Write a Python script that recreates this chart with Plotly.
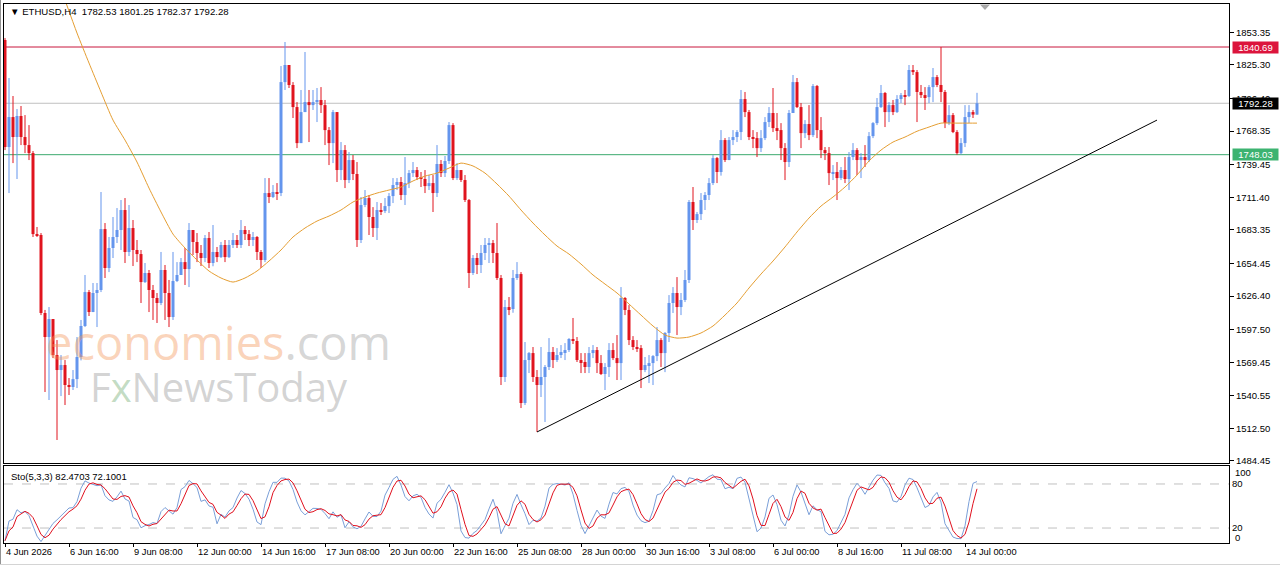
import plotly.graph_objects as go
import pandas as pd

# ---------------- data ----------------
symbol = "ETHUSD,H4"
first_open = 1846.7

close = [
    1754.6, 1780.4, 1763.2, 1781.3, 1763.2, 1756.3, 1749.4, 1679.7, 1678.9, 1611.8,
    1591.1, 1606.6, 1575.6, 1562.7, 1567.0, 1549.8, 1548.1, 1554.9, 1573.9, 1600.6,
    1629.8, 1612.6, 1629.0, 1631.6, 1684.0, 1650.5, 1667.7, 1677.2, 1683.2, 1700.4,
    1664.3, 1684.9, 1666.0, 1662.5, 1638.4, 1646.2, 1631.6, 1624.7, 1620.4, 1648.8,
    1629.0, 1608.3, 1639.3, 1644.5, 1655.6, 1649.6, 1683.2, 1672.9, 1663.4, 1659.1,
    1676.3, 1654.8, 1664.3, 1659.9, 1670.3, 1659.9, 1670.3, 1674.6, 1670.3, 1683.2,
    1679.7, 1674.6, 1677.2, 1664.3, 1657.4, 1715.0, 1711.6, 1715.9, 1715.0, 1810.5,
    1825.2, 1808.0, 1789.0, 1758.0, 1784.7, 1793.3, 1790.7, 1793.3, 1795.1, 1790.7,
    1769.2, 1758.0, 1784.7, 1734.8, 1752.0, 1726.2, 1743.4, 1731.4, 1674.6, 1704.7,
    1710.7, 1694.4, 1684.9, 1700.4, 1699.5, 1703.8, 1712.4, 1721.9, 1724.5, 1713.3,
    1723.6, 1732.2, 1734.8, 1728.8, 1727.1, 1721.0, 1723.6, 1715.0, 1740.0, 1732.2,
    1742.6, 1773.5, 1727.9, 1734.8, 1726.2, 1709.0, 1646.2, 1659.1, 1653.1, 1663.4,
    1670.3, 1672.0, 1663.4, 1641.9, 1556.7, 1616.9, 1615.2, 1641.9, 1645.3, 1534.3,
    1571.3, 1577.3, 1556.7, 1549.8, 1556.7, 1565.3, 1578.2, 1571.3, 1575.6, 1578.2,
    1579.9, 1589.4, 1587.7, 1571.3, 1569.6, 1565.3, 1577.3, 1579.9, 1568.7, 1559.3,
    1565.3, 1579.9, 1573.0, 1568.7, 1624.7, 1614.4, 1588.5, 1582.5, 1581.6, 1562.7,
    1567.0, 1568.7, 1574.7, 1588.5, 1577.3, 1594.6, 1620.4, 1629.0, 1616.9, 1623.0,
    1640.2, 1707.3, 1691.8, 1696.9, 1709.0, 1713.3, 1723.6, 1745.1, 1733.1, 1760.6,
    1743.4, 1760.6, 1763.2, 1767.5, 1795.9, 1784.7, 1763.2, 1762.3, 1753.7, 1762.3,
    1776.1, 1783.9, 1770.9, 1769.2, 1753.7, 1741.7, 1783.9, 1810.5, 1789.0, 1766.6,
    1774.4, 1764.9, 1807.1, 1769.2, 1752.0, 1749.4, 1732.2, 1733.1, 1727.9, 1734.8,
    1727.1, 1746.0, 1752.0, 1743.4, 1746.0, 1743.4, 1764.0, 1775.2, 1789.0, 1801.1,
    1784.7, 1790.7, 1784.7, 1795.9, 1799.3, 1798.5, 1820.9, 1819.1, 1802.0, 1799.3,
    1797.6, 1806.2, 1814.8, 1808.0, 1802.0, 1775.2, 1782.1, 1767.5, 1749.4, 1758.0,
    1780.4, 1784.7, 1782.53, 1792.28,
]

high = [
    1848.4, 1814.0, 1798.5, 1787.3, 1789.9, 1782.1, 1773.5, 1751.2, 1685.8, 1680.6,
    1614.4, 1616.9, 1606.6, 1588.5, 1575.6, 1571.3, 1555.8, 1562.7, 1591.1, 1605.8,
    1644.5, 1631.6, 1637.6, 1637.6, 1715.9, 1689.2, 1677.2, 1694.4, 1702.1, 1709.0,
    1710.7, 1704.7, 1691.8, 1674.6, 1666.0, 1654.8, 1648.8, 1635.9, 1629.0, 1664.3,
    1653.1, 1640.2, 1664.3, 1655.6, 1659.1, 1667.7, 1689.2, 1683.2, 1680.6, 1670.3,
    1678.9, 1681.5, 1687.5, 1668.6, 1672.9, 1674.6, 1674.6, 1680.6, 1678.9, 1691.8,
    1686.6, 1683.2, 1681.5, 1678.0, 1666.0, 1727.9, 1727.9, 1721.9, 1723.6, 1824.3,
    1845.0, 1825.2, 1810.5, 1793.3, 1803.7, 1836.4, 1803.7, 1803.7, 1805.4, 1806.2,
    1795.1, 1771.8, 1786.5, 1784.7, 1758.9, 1756.3, 1750.3, 1747.7, 1741.7, 1711.6,
    1717.6, 1713.3, 1702.9, 1707.3, 1706.4, 1710.7, 1715.0, 1727.9, 1727.9, 1728.8,
    1746.0, 1734.8, 1741.7, 1737.4, 1733.1, 1734.8, 1730.5, 1730.5, 1756.3, 1743.4,
    1746.9, 1776.1, 1775.2, 1740.8, 1734.8, 1730.5, 1709.9, 1661.7, 1663.4, 1670.3,
    1676.3, 1676.3, 1674.6, 1689.2, 1644.5, 1623.0, 1625.5, 1648.8, 1655.6, 1647.0,
    1586.8, 1578.2, 1582.5, 1562.7, 1582.5, 1567.0, 1590.2, 1582.5, 1581.6, 1584.2,
    1585.9, 1590.2, 1607.5, 1591.1, 1577.3, 1577.3, 1582.5, 1584.2, 1582.5, 1575.6,
    1568.7, 1585.9, 1585.9, 1592.8, 1634.1, 1625.5, 1618.6, 1591.9, 1588.5, 1584.2,
    1573.9, 1575.6, 1575.6, 1599.7, 1590.2, 1595.4, 1627.2, 1634.1, 1642.7, 1629.0,
    1648.8, 1709.0, 1720.2, 1698.7, 1715.0, 1715.9, 1727.9, 1747.7, 1746.0, 1769.2,
    1762.3, 1763.2, 1769.2, 1769.2, 1803.7, 1802.0, 1786.5, 1769.2, 1767.5, 1769.2,
    1780.4, 1789.0, 1805.4, 1783.9, 1775.2, 1758.0, 1786.5, 1816.6, 1814.0, 1792.5,
    1777.8, 1790.7, 1808.8, 1808.0, 1780.4, 1754.6, 1754.6, 1739.1, 1741.7, 1737.4,
    1746.0, 1750.3, 1758.0, 1753.7, 1749.4, 1756.3, 1767.5, 1776.1, 1796.8, 1808.0,
    1802.0, 1793.3, 1795.1, 1799.3, 1801.1, 1803.7, 1825.2, 1825.2, 1820.9, 1808.0,
    1806.2, 1808.0, 1822.6, 1816.6, 1840.69, 1803.7, 1790.7, 1783.9, 1769.2, 1762.3,
    1790.7, 1790.7, 1786.5, 1801.25,
]

low = [
    1752.0, 1715.0, 1740.8, 1727.1, 1756.3, 1749.4, 1743.4, 1677.2, 1677.2, 1610.0,
    1543.8, 1536.9, 1573.0, 1502.5, 1540.3, 1532.6, 1541.2, 1545.5, 1547.2, 1571.0,
    1599.7, 1609.2, 1612.6, 1599.7, 1629.8, 1641.9, 1647.0, 1659.1, 1672.0, 1666.0,
    1654.8, 1660.8, 1652.2, 1655.6, 1620.4, 1637.6, 1612.6, 1605.8, 1603.2, 1618.6,
    1605.8, 1599.7, 1605.8, 1638.4, 1644.5, 1635.9, 1634.1, 1661.7, 1655.6, 1652.2,
    1655.6, 1650.5, 1652.0, 1655.6, 1659.1, 1655.6, 1659.1, 1667.7, 1667.7, 1667.7,
    1674.6, 1669.4, 1669.4, 1657.4, 1650.5, 1655.6, 1706.4, 1710.7, 1709.0, 1712.4,
    1803.7, 1805.4, 1779.6, 1753.7, 1758.0, 1784.7, 1758.9, 1786.5, 1776.1, 1783.9,
    1756.3, 1739.1, 1740.8, 1724.5, 1726.2, 1719.3, 1723.6, 1726.2, 1668.6, 1672.0,
    1702.9, 1678.9, 1677.2, 1674.6, 1696.1, 1697.8, 1697.8, 1706.4, 1717.6, 1709.0,
    1704.7, 1719.3, 1728.8, 1726.2, 1720.2, 1715.0, 1717.6, 1698.7, 1711.6, 1728.8,
    1728.8, 1740.0, 1726.2, 1726.2, 1724.5, 1707.3, 1633.3, 1644.5, 1645.3, 1646.2,
    1657.4, 1654.8, 1654.8, 1640.2, 1549.8, 1552.4, 1610.0, 1612.0, 1640.2, 1530.0,
    1532.6, 1560.1, 1552.4, 1509.4, 1539.5, 1518.0, 1562.7, 1564.4, 1569.6, 1573.0,
    1571.3, 1578.2, 1585.1, 1569.6, 1560.1, 1560.1, 1560.1, 1573.0, 1560.1, 1558.4,
    1545.5, 1556.7, 1571.3, 1554.1, 1554.1, 1610.0, 1584.2, 1579.9, 1578.2, 1547.2,
    1560.9, 1551.5, 1549.8, 1570.4, 1565.3, 1560.9, 1586.8, 1611.8, 1592.8, 1610.0,
    1621.2, 1637.6, 1683.2, 1689.2, 1691.8, 1700.4, 1709.0, 1721.9, 1723.6, 1730.0,
    1741.7, 1743.4, 1756.3, 1758.9, 1760.6, 1780.4, 1760.6, 1753.7, 1746.0, 1750.3,
    1760.6, 1771.8, 1767.5, 1760.6, 1743.4, 1726.2, 1737.4, 1783.9, 1788.2, 1753.7,
    1762.3, 1760.6, 1763.2, 1762.3, 1745.1, 1743.4, 1721.9, 1726.2, 1709.0, 1726.2,
    1723.6, 1717.6, 1743.4, 1730.5, 1727.9, 1737.4, 1741.7, 1762.3, 1773.5, 1788.2,
    1771.8, 1776.1, 1782.1, 1783.9, 1792.5, 1790.7, 1797.6, 1816.6, 1776.1, 1796.8,
    1786.5, 1792.5, 1793.3, 1806.2, 1793.3, 1770.9, 1773.5, 1766.6, 1748.0, 1748.2,
    1754.6, 1775.2, 1779.6, 1782.37,
]

# moving average (bar index, value)
ma_bars = [15, 18, 21, 24, 27, 30, 33, 36, 39, 42, 45, 48, 51, 54, 57, 60, 63, 66, 69, 72,
           75, 78, 81, 84, 87, 90, 93, 96, 99, 102, 105, 108, 111, 114, 117, 120, 123, 126,
           129, 132, 135, 138, 141, 144, 147, 150, 153, 156, 159, 162, 165, 168, 171, 174,
           177, 180, 183, 186, 189, 192, 195, 198, 201, 204, 207, 210, 213, 216, 219, 222,
           225, 228, 231, 234, 237, 240, 243]
ma_vals = [1881.1, 1852.7, 1826.9, 1801.9, 1777.8, 1760.6, 1741.7, 1719.3, 1698.7, 1679.7,
           1667.7, 1657.4, 1647.9, 1641.9, 1638.4, 1641.9, 1647.9, 1656.5, 1666.0, 1677.2,
           1684.9, 1690.9, 1695.2, 1700.4, 1707.3, 1711.6, 1715.0, 1717.6, 1720.2, 1725.4,
           1729.6, 1732.2, 1736.5, 1740.8, 1738.3, 1732.2, 1722.8, 1712.4, 1700.4, 1689.2,
           1678.9, 1669.4, 1662.5, 1653.9, 1644.5, 1636.7, 1629.0, 1619.5, 1610.0, 1600.6,
           1592.8, 1590.2, 1591.1, 1594.6, 1600.6, 1610.0, 1620.4, 1633.3, 1645.3, 1656.5,
           1668.6, 1681.5, 1693.5, 1703.8, 1711.6, 1720.2, 1730.5, 1742.6, 1752.0, 1758.9,
           1763.2, 1768.2, 1771.8, 1775.2, 1775.2, 1775.2, 1775.2]

resistance_level = 1840.69
current_price = 1792.28
support_level = 1748.03
trend_bars = [133, 288]
trend_prices = [1509.4, 1777.8]

price_ticks = [1853.35, 1825.30, 1796.40, 1768.35, 1739.45, 1711.40, 1683.35, 1654.45,
               1626.40, 1597.50, 1569.45, 1540.55, 1512.50, 1484.45]
time_tick_bars = [0, 16, 32, 48, 64, 80, 96, 112, 128, 144, 160, 176, 192, 208, 224, 240]
time_tick_labels = ["4 Jun 2026", "6 Jun 16:00", "9 Jun 08:00", "12 Jun 00:00", "14 Jun 16:00",
                    "17 Jun 08:00", "20 Jun 00:00", "22 Jun 16:00", "25 Jun 08:00", "28 Jun 00:00",
                    "30 Jun 16:00", "3 Jul 08:00", "6 Jul 00:00", "8 Jul 16:00", "11 Jul 08:00",
                    "14 Jul 00:00"]
sto_k_period, sto_d_period, sto_slowing = 5, 3, 3
sto_levels = [20, 80]
sto_label_main = "82.4703"     # as printed on the chart
sto_label_signal = "72.1001"

# ---------------- derived ----------------
n = len(close)
opens = [first_open] + close[:-1]
bars = list(range(n))

UP = "#6495ED"
DOWN = "#E0141E"
FONT = "Liberation Sans"

df = pd.DataFrame({"o": opens, "h": high, "l": low, "c": close})
ll = df["l"].rolling(sto_k_period, min_periods=1).min()
hh = df["h"].rolling(sto_k_period, min_periods=1).max()
num = (df["c"] - ll).rolling(sto_slowing, min_periods=1).sum()
den = (hh - ll).rolling(sto_slowing, min_periods=1).sum()
sto_main = 100 * num / den
sto_signal = sto_main.rolling(sto_d_period, min_periods=1).mean()

fig = go.Figure()

for up in (True, False):
    idx = [i for i in bars if (close[i] >= opens[i]) == up]
    color = UP if up else DOWN
    wx, wy = [], []
    for i in idx:
        wx += [i, i, None]
        wy += [low[i], high[i], None]
    fig.add_trace(go.Scatter(x=wx, y=wy, mode="lines", line=dict(color=color, width=1),
                             hoverinfo="skip", xaxis="x", yaxis="y"))
    fig.add_trace(go.Bar(x=idx, y=[abs(close[i] - opens[i]) for i in idx],
                         base=[min(close[i], opens[i]) for i in idx], width=0.75,
                         marker=dict(color=color, line=dict(width=0)),
                         hoverinfo="skip", xaxis="x", yaxis="y"))

fig.add_trace(go.Scatter(x=ma_bars, y=ma_vals, mode="lines",
                         line=dict(color="#E59E32", width=1, shape="spline", smoothing=0.6),
                         hoverinfo="skip", xaxis="x", yaxis="y"))

fig.add_trace(go.Scatter(x=bars, y=sto_main, mode="lines", line=dict(color="#7A9FD8", width=1),
                         hoverinfo="skip", xaxis="x2", yaxis="y2"))
fig.add_trace(go.Scatter(x=bars, y=sto_signal, mode="lines", line=dict(color="#E0101E", width=1),
                         hoverinfo="skip", xaxis="x2", yaxis="y2"))

shapes = [
    dict(type="line", xref="paper", x0=0, x1=1, yref="y", y0=resistance_level, y1=resistance_level,
         line=dict(color="#C8163C", width=1), layer="below"),
    dict(type="line", xref="paper", x0=0, x1=1, yref="y", y0=current_price, y1=current_price,
         line=dict(color="#C0C0C0", width=1), layer="below"),
    dict(type="line", xref="paper", x0=0, x1=1, yref="y", y0=support_level, y1=support_level,
         line=dict(color="#3CAA6E", width=1), layer="below"),
    dict(type="line", xref="x", yref="y", x0=trend_bars[0], y0=trend_prices[0],
         x1=trend_bars[1], y1=trend_prices[1], line=dict(color="black", width=1)),
]
for lv in sto_levels:
    shapes.append(dict(type="line", xref="paper", x0=0, x1=1, yref="y2", y0=lv, y1=lv,
                       line=dict(color="#C0C0C0", width=1, dash="dash"), layer="below"))
# chart-shift marker
shapes.append(dict(type="path", xref="paper", yref="paper",
                   path="M 0.7967 0.9990 L 0.8049 0.9990 L 0.8008 0.9889 Z",
                   fillcolor="#A8A8A8", line=dict(width=0)))
# window frame (left edge and bottom edge)
shapes.append(dict(type="line", xref="paper", yref="paper", x0=-0.0029, x1=-0.0029,
                   y0=-0.04, y1=1.0074, line=dict(color="#8C8C8C", width=1)))
shapes.append(dict(type="line", xref="paper", yref="paper", x0=-0.0033, x1=1.0417,
                   y0=-0.0399, y1=-0.0399, line=dict(color="#D4D4D4", width=1)))

annotations = []
hdr = f"▼ {symbol}  {opens[-1]:.2f} {high[-1]:.2f} {low[-1]:.2f} {close[-1]:.2f}"
annotations.append(dict(text=hdr, xref="paper", yref="paper", x=0.0033, y=0.9852,
                        xanchor="left", yanchor="middle", showarrow=False,
                        font=dict(family=FONT, size=9.6, color="black")))
annotations.append(dict(text=f"Sto({sto_k_period},{sto_d_period},{sto_slowing}) "
                             f"{sto_label_main} {sto_label_signal}",
                        xref="paper", yref="paper", x=0.0041, y=0.1243,
                        xanchor="left", yanchor="middle", showarrow=False,
                        font=dict(family=FONT, size=9.5, color="black")))
for txt, val, bg in [(f"{resistance_level:.2f}", resistance_level, "#DC143C"),
                     (f"{current_price:.2f}", current_price, "#000000"),
                     (f"{support_level:.2f}", support_level, "#3CB371")]:
    annotations.append(dict(text=txt, xref="paper", yref="y", x=1, y=val, xanchor="left",
                            yanchor="middle", xshift=3, showarrow=False, bgcolor=bg,
                            width=45, height=11, align="center", borderpad=0,
                            font=dict(family=FONT, size=9.5, color="white")))
for b, lab in zip(time_tick_bars, time_tick_labels):
    annotations.append(dict(text=lab, xref="x", yref="paper", x=b, y=-0.0167, xanchor="left",
                            yanchor="middle", xshift=-1, showarrow=False,
                            font=dict(family=FONT, size=9.3, color="black")))
for txt, yp in [("100", 0.1308), ("0", 0.0111)]:
    annotations.append(dict(text=txt, xref="paper", yref="paper", x=1, y=yp, xanchor="left",
                            yanchor="middle", xshift=4, showarrow=False,
                            font=dict(family=FONT, size=9.5, color="black")))
# watermark (two lines in one text block)
annotations.append(dict(text='<span style="font-size:47px;color:rgba(244,150,90,0.42)">economies</span>'
                             '<span style="font-size:47px;color:rgba(150,150,150,0.4)">.com</span><br>'
                             '<span style="font-size:40px;color:rgba(150,150,150,0.42)">F</span>'
                             '<span style="font-size:40px;color:rgba(110,170,110,0.42)">x</span>'
                             '<span style="font-size:40px;color:rgba(150,150,150,0.42)">NewsToday</span>',
                        xref="paper", yref="paper", x=0.1755, y=0.3355, xanchor="center",
                        yanchor="middle", align="center", showarrow=False,
                        font=dict(family="Open Sans", size=32)))

axis_common = dict(showgrid=False, zeroline=False, showline=True, linecolor="black",
                   linewidth=1, mirror=True)

fig.update_layout(
    width=1280, height=567,
    margin=dict(l=4, r=51, t=4, b=24),
    paper_bgcolor="white", plot_bgcolor="white",
    showlegend=False, barmode="overlay",
    xaxis=dict(domain=[0, 1], range=[-0.25, 306], anchor="y", showticklabels=False,
               ticks="", **axis_common),
    xaxis2=dict(domain=[0, 1], range=[-0.25, 306], anchor="y2", matches="x",
                showticklabels=False, ticks="outside", ticklen=3, tickcolor="black",
                tickvals=time_tick_bars, **axis_common),
    yaxis=dict(domain=[0.14842, 1], range=[1482.7, 1877.7], anchor="x", side="right",
               tickvals=price_ticks, ticktext=[f"{v:.2f}" for v in price_ticks],
               ticks="outside", ticklen=4, tickcolor="black",
               tickfont=dict(family=FONT, size=9.5, color="black"), **axis_common),
    yaxis2=dict(domain=[0, 0.14286], range=[-0.4, 104.5], anchor="x2", side="right",
                tickvals=sto_levels, ticktext=[str(v) for v in sto_levels], ticks="",
                tickfont=dict(family=FONT, size=9.5, color="black"), **axis_common),
    shapes=shapes,
    annotations=annotations,
)

fig.write_html("out.html")
